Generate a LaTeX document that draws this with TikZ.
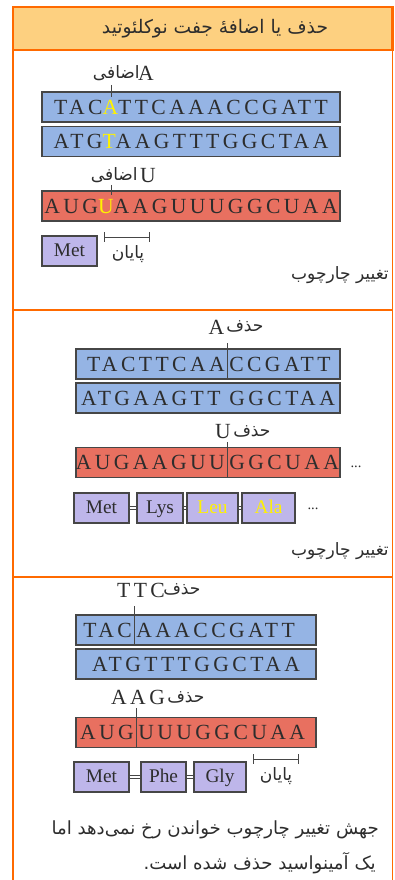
\documentclass[tikz,border=0pt]{standalone}
\usepackage{fontspec}
\setmainfont{Liberation Serif}
\newfontfamily\seqfont[LetterSpace=16]{Liberation Serif}
\newfontfamily\fafont[Script=Arabic]{DejaVu Sans}
\TeXXeTstate=1
\usetikzlibrary{arrows.meta}
\definecolor{frameorange}{RGB}{255,106,0}
\definecolor{titlefill}{RGB}{253,208,128}
\definecolor{dnablue}{RGB}{149,180,228}
\definecolor{rnared}{RGB}{232,112,96}
\definecolor{aapurple}{RGB}{190,182,234}
\definecolor{boxline}{RGB}{70,70,70}
\definecolor{basegray}{RGB}{45,45,45}
\newcommand{\hl}[1]{\textcolor{yellow}{#1}}
\tikzset{
  bases/.style={font=\seqfont\fontsize{16.2}{18}\selectfont, text=basegray, inner sep=0pt},
  strand/.style={bases, draw=boxline, line width=0.9pt, minimum height=30*0.75pt},
  dna/.style={strand, fill=dnablue},
  rna/.style={strand, fill=rnared},
  amino/.style={draw=boxline, line width=0.9pt, fill=aapurple, minimum height=30*0.75pt,
    inner sep=0pt, text height=10pt, text depth=2pt, font=\fontsize{14.5}{16}\selectfont, text=basegray},
  fa/.style={font=\fafont\fontsize{12.8}{15}\selectfont, text=basegray, inner sep=0pt},
  dots/.style={font=\fontsize{11}{12}\selectfont, text=basegray, inner sep=0pt},
  cut/.style={draw=boxline, line width=0.7pt},
  bond/.style={draw=boxline, line width=0.5pt, double=white, double distance=1.4pt},
  stopbar/.style={cut, {Bar[width=7pt]}-{Bar[width=7pt]}},
}
\begin{document}
\begin{tikzpicture}[x=0.75pt,y=-0.75pt]
\useasboundingbox (0,0) rectangle (394,880);
% frame and title band
\fill [white] (0,0) rectangle (394,880);
\draw [fill=titlefill, draw=frameorange, line width=1.6pt] (13,7) rectangle (392.5,50);
\draw [frameorange, line width=2.2pt] (13,7) -- (13,880);
\draw [frameorange, line width=0.9pt] (392.5,50) -- (392.5,880);
\draw [frameorange, line width=1.3pt] (13,310) -- (392.5,310);
\draw [frameorange, line width=1.3pt] (13,577) -- (392.5,577);
\node [fa, font=\fafont\fontsize{14}{16}\selectfont] (title) at (215,29) {\beginR حذف یا اضافهٔ جفت نوکلئوتید\endR};

% insertion
\node [bases] (ins1) at (146,73) {A};
\node [fa, anchor=east] (ins1fa) at (140,73) {\beginR اضافی\endR};
\node [dna, minimum width=298*0.75pt] (top1) at (191,107) {TAC\hl{A}TTCAAACCGATT};
\node [dna, minimum width=298*0.75pt] (bot1) at (191,141.5) {ATG\hl{T}AAGTTTGGCTAA};
\coordinate (tick1a) at (111,85);
\coordinate (tick1b) at (111,97);
\draw [cut] (tick1a) -- (tick1b);
\node [bases] (ins2) at (148,176) {U};
\node [fa, anchor=east] (ins2fa) at (138,175) {\beginR اضافی\endR};
\node [rna, minimum width=298*0.75pt] (rna1) at (191,206) {AUG\hl{U}AAGUUUGGCUAA};
\coordinate (tick2a) at (111,185);
\coordinate (tick2b) at (111,195);
\draw [cut] (tick2a) -- (tick2b);
\node [amino, minimum width=55*0.75pt] (met1) at (69.5,251) {Met};
\coordinate (stop1a) at (104,237);
\coordinate (stop1b) at (150,237);
\draw [stopbar] (stop1a) -- (stop1b);
\node [fa] (stop1) at (128,254) {\beginR پایان\endR};
\node [fa, anchor=east] (shift1) at (389,275) {\beginR تغییر چارچوب\endR};

% single deletion
\node [bases] (del1) at (216.5,327) {A};
\node [fa, anchor=west] (del1fa) at (226,326) {\beginR حذف\endR};
\node [dna, minimum width=264*0.75pt] (top2) at (208,364) {};
\node [bases, anchor=east] (top2l) at (225,364) {TACTTCAA};
\node [bases, anchor=west] (top2r) at (229,364) {CCGATT};
\node [dna, minimum width=264*0.75pt] (bot2) at (208,398) {ATGAAGTT GGCTAA};
\coordinate (cut1a) at (227,343);
\coordinate (cut1b) at (227,379);
\draw [cut] (cut1a) -- (cut1b);
\node [bases] (del2) at (223,432) {U};
\node [fa, anchor=west] (del2fa) at (233,431) {\beginR حذف\endR};
\node [rna, minimum width=264*0.75pt] (rna2) at (208,462.5) {};
\node [bases, anchor=east] (rna2l) at (225,462.5) {AUGAAGUU};
\node [bases, anchor=west] (rna2r) at (229,462.5) {GGCUAA};
\coordinate (cut2a) at (227,442);
\coordinate (cut2b) at (227,477);
\draw [cut] (cut2a) -- (cut2b);
\node [dots] (more1) at (356,467) {...};
\node [amino, minimum width=55*0.75pt] (met2) at (101.5,508) {Met};
\node [amino, minimum width=46*0.75pt] (lys2) at (160,508) {Lys};
\node [amino, minimum width=51*0.75pt, text=yellow] (leu2) at (212.5,508) {Leu};
\node [amino, minimum width=53*0.75pt, text=yellow] (ala2) at (268.5,508) {Ala};
\draw [bond] (met2) -- (lys2);
\draw [bond] (lys2) -- (leu2);
\draw [bond] (leu2) -- (ala2);
\node [dots] (more2) at (313,509) {...};
\node [fa, anchor=east] (shift2) at (389,551) {\beginR تغییر چارچوب\endR};

% codon deletion
\node [bases] (del3) at (141,590) {TTC};
\node [fa, anchor=west] (del3fa) at (163,589) {\beginR حذف\endR};
\node [dna, minimum width=240*0.75pt] (top3) at (196,630) {};
\node [bases, anchor=east] (top3l) at (132,630) {TAC};
\node [bases, anchor=west] (top3r) at (136,630) {AAACCGATT};
\node [dna, minimum width=240*0.75pt] (bot3) at (196,664) {ATGTTTGGCTAA};
\coordinate (cut3a) at (134,606);
\coordinate (cut3b) at (134,645);
\draw [cut] (cut3a) -- (cut3b);
\node [bases] (del4) at (138,697) {AAG};
\node [fa, anchor=west] (del4fa) at (167,697) {\beginR حذف\endR};
\node [rna, minimum width=240*0.75pt] (rna3) at (196,732.5) {};
\node [bases, anchor=east] (rna3l) at (134,732.5) {AUG};
\node [bases, anchor=west] (rna3r) at (138,732.5) {UUUGGCUAA};
\coordinate (cut4a) at (136,708);
\coordinate (cut4b) at (136,747);
\draw [cut] (cut4a) -- (cut4b);
\node [amino, minimum width=55*0.75pt] (met3) at (101.5,777) {Met};
\node [amino, minimum width=45*0.75pt] (phe3) at (163.5,777) {Phe};
\node [amino, minimum width=52*0.75pt] (gly3) at (220,777) {Gly};
\draw [bond] (met3) -- (phe3);
\draw [bond] (phe3) -- (gly3);
\coordinate (stop3a) at (253,759);
\coordinate (stop3b) at (299,759);
\draw [stopbar] (stop3a) -- (stop3b);
\node [fa] (stop3) at (276,776) {\beginR پایان\endR};
\node [fa, anchor=east, font=\fafont\fontsize{13.6}{16}\selectfont] (note1) at (379,830) {\beginR جهش تغییر چارچوب خواندن رخ نمی^^^^200cدهد اما\endR};
\node [fa, anchor=east, font=\fafont\fontsize{13.6}{16}\selectfont] (note2) at (376,863) {\beginR یک آمینواسید حذف شده است.\endR};
\end{tikzpicture}
\end{document}
